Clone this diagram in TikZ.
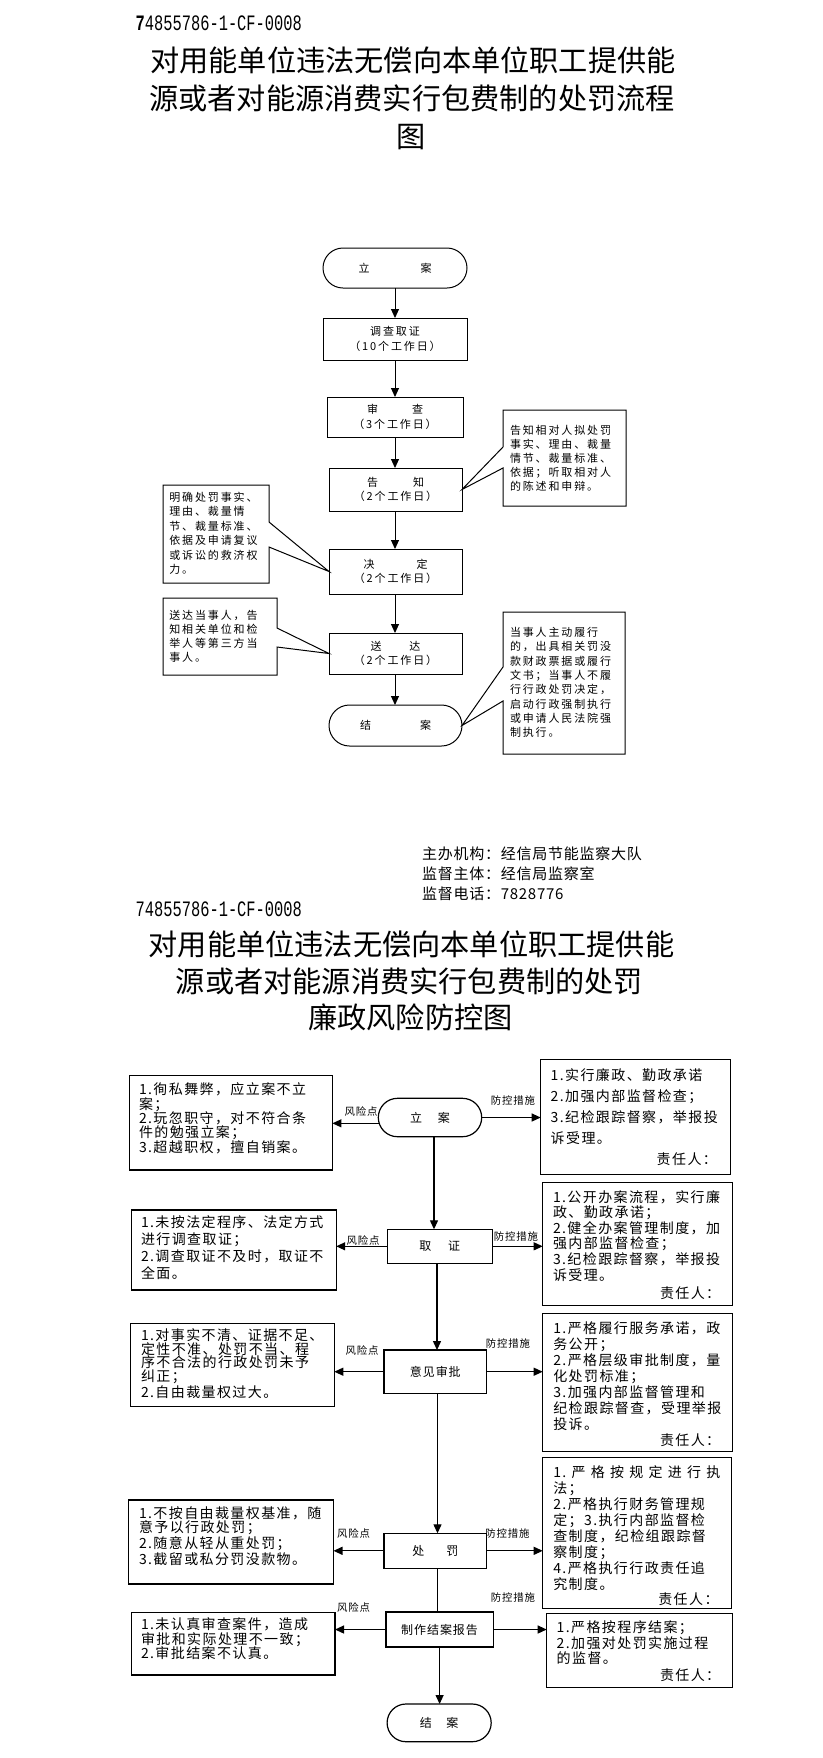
\documentclass[tikz,border=0pt]{standalone}
\usepackage{fontspec}
\usepackage{graphicx}
\usetikzlibrary{arrows.meta,shapes.misc}
\newfontfamily\cjk{Noto Sans CJK SC}
\newfontfamily\cjkA[LetterSpace=17]{Noto Sans CJK SC}
\newfontfamily\cjkB[LetterSpace=10]{Noto Sans CJK SC}
\newfontfamily\cjkC[LetterSpace=8]{Noto Sans CJK SC}
\newfontfamily\cjkD[LetterSpace=5]{Noto Sans CJK SC}
\newfontfamily\idf{Liberation Mono}
\begin{document}
\lineskiplimit=-20pt
\lineskip=0pt
\begin{tikzpicture}[x=0.5pt,y=-0.5pt]
\tikzset{
  every node/.style={inner sep=0pt, outer sep=0pt},
  fbox/.style={draw, line width=0.5pt, rectangle, align=center, font={\cjkA\fontsize{5.5pt}{7.25pt}\selectfont}},
  fstad/.style={fbox, rounded rectangle},
  ntxt/.style={anchor=base west, text width=90pt, align=left, font={\cjkA\fontsize{5.5pt}{#1}\selectfont}},
  cbox/.style={draw, line width=0.6pt, rectangle, align=center, font={\cjkC\fontsize{6pt}{7.5pt}\selectfont}},
  cstad/.style={cbox, rounded rectangle},
  sbox/.style={draw, line width=0.6pt, rectangle, anchor=north west},
  ltxt/.style={anchor=base west, text width=120pt, align=left, font={\cjkB\fontsize{7pt}{#1}\selectfont}},
  resp/.style={anchor=base west, font={\cjkB\fontsize{7pt}{8pt}\selectfont}},
  lbl/.style={font={\cjkC\fontsize{5.2pt}{6pt}\selectfont}},
  arr/.style={-{Triangle[length=4.5pt,width=4pt]}, line width=0.5pt},
  arrL/.style={-{Triangle[length=4.5pt,width=4pt]}, line width=0.6pt},
  plain/.style={line width=0.6pt},
  ttl/.style={font={\cjk\fontsize{14.6pt}{18pt}\selectfont}},
  idt/.style={anchor=base west, font={\idf\fontsize{11pt}{13pt}\selectfont}},
  callout/.style={line width=0.5pt}
}
\fill[white] (0,0) rectangle (823,1758);
\useasboundingbox (0,0) rectangle (823,1758);

% ---------- part 1 ----------
\node[idt] (id1) at (135.6,30) {\scalebox{0.7}[1]{\textbf{7}4855786-1-CF-0008}};
\node[ttl] (t1a) at (413,60) {对用能单位违法无偿向本单位职工提供能};
\node[ttl] (t1b) at (412,98.3) {源或者对能源消费实行包费制的处罚流程};
\node[ttl] (t1c) at (411.5,137.5) {图};

\node[fstad, minimum width=72pt, minimum height=20pt] (tla) at (395,268) {立\hspace{25.5pt}案};
\node[fbox, minimum width=72pt, minimum height=21pt] (tdc) at (395,339) {调查取证\\（10个工作日）};
\node[fbox, minimum width=68pt, minimum height=20pt] (tsc) at (395,417) {审\hspace{17pt}查\\（3个工作日）};
\node[fbox, minimum width=66.5pt, minimum height=21.5pt] (tgz) at (395.5,489.5) {告\hspace{17.5pt}知\\（2个工作日）};
\node[fbox, minimum width=66.5pt, minimum height=22.5pt] (tjd) at (395.5,571.5) {决\hspace{21pt}定\\（2个工作日）};
\node[fbox, minimum width=66.5pt, minimum height=20.5pt] (tsd) at (395.5,653.5) {送\hspace{14pt}达\\（2个工作日）};
\node[fstad, minimum width=66.5pt, minimum height=20.5pt] (tja) at (395.5,725.5) {结\hspace{24.5pt}案};

\draw[arr] (tla.south) -- (tla.south |- tdc.north);
\draw[arr] (tdc.south) -- (tdc.south |- tsc.north);
\draw[arr] (tsc.south) -- (tsc.south |- tgz.north);
\draw[arr] (tsc.south |- tgz.south) -- (tsc.south |- tjd.north);
\draw[arr] (tsc.south |- tjd.south) -- (tsc.south |- tsd.north);
\draw[arr] (tsc.south |- tsd.south) -- (tsc.south |- tja.north);

\draw[callout] (503,447) -- (503,410) -- (626,410) -- (626,506) -- (503,506) -- (503,468) -- (tgz.east) -- cycle;
\draw[callout] (269,522) -- (269,485) -- (163,485) -- (163,583) -- (269,583) -- (269,547) -- (tjd.west) -- cycle;
\draw[callout] (277,628) -- (277,598) -- (163,598) -- (163,675) -- (277,675) -- (277,647) -- (tsd.west) -- cycle;
\draw[callout] (503,667) -- (503,612) -- (625,612) -- (625,754) -- (503,754) -- (503,701) -- (tja.east) -- cycle;

\node[ntxt=7pt] (rn1) at (510,434.2) {告知相对人拟处罚\\事实、理由、裁量\\情节、裁量标准、\\依据；听取相对人\\的陈述和申辩。};
\node[ntxt=7.2pt] (ln1) at (169.3,501.5) {明确处罚事实、\\理由、裁量情\\节、裁量标准、\\依据及申请复议\\或诉讼的救济权\\力。};
\node[ntxt=7pt] (ln2) at (169.3,619.2) {送达当事人，告\\知相关单位和检\\举人等第三方当\\事人。};
\node[ntxt=7.15pt] (rn2) at (510,636.5) {当事人主动履行\\的，出具相关罚没\\款财政票据或履行\\文书；当事人不履\\行行政处罚决定，\\启动行政强制执行\\或申请人民法院强\\制执行。};

\node[anchor=base west, text width=200pt, align=left, font={\cjkD\fontsize{7.5pt}{10.2pt}\selectfont}] (ft) at (422,859) {主办机构：经信局节能监察大队\\监督主体：经信局监察室\\监督电话：7828776};

% ---------- part 2 ----------
\node[idt] (id2) at (135.6,916) {\scalebox{0.7}[1]{74855786-1-CF-0008}};
\node[ttl] (t2a) at (411.5,944) {对用能单位违法无偿向本单位职工提供能};
\node[ttl] (t2b) at (409.5,981.7) {源或者对能源消费实行包费制的处罚};
\node[ttl] (t2c) at (410.5,1017.5) {廉政风险防控图};

% centre column
\node[cstad, minimum width=51.7pt, minimum height=19.2pt] (lla) at (430,1117.5) {立\hspace{8pt}案};
\node[cbox, minimum width=52.65pt, minimum height=17pt] (lqz) at (439.75,1246.3) {取\hspace{8.3pt}证};
\node[cbox, minimum width=51.3pt, minimum height=21.65pt] (lyj) at (435.3,1371.7) {意见审批};
\node[cbox, minimum width=51.3pt, minimum height=17.5pt] (lcf) at (435.3,1550.8) {处\hspace{11pt}罚};
\node[cbox, minimum width=53.55pt, minimum height=17.5pt] (lzz) at (439.55,1629.5) {制作结案报告};
\node[cstad, minimum width=52.05pt, minimum height=18.85pt] (lja) at (439.15,1722.85) {结\hspace{7.3pt}案};

\coordinate (ax1) at (434,0);
\coordinate (ax2) at (437,0);
\coordinate (ax3) at (437.5,0);
\coordinate (ax5) at (439.6,0);
\draw[arrL] (lla.south -| ax1) -- (lqz.north -| ax1);
\draw[arrL] (lqz.south -| ax2) -- (lyj.north -| ax2);
\draw[arrL] (lyj.south -| ax3) -- (lcf.north -| ax3);
\draw[plain] (lcf.south -| ax3) -- (lzz.north -| ax3);
\draw[arrL] (lzz.south -| ax5) -- (lja.north -| ax5);

% side boxes
\node[sbox, minimum width=101.4pt, minimum height=47.15pt] (L1) at (129.6,1075.7) {};
\node[sbox, minimum width=102.35pt, minimum height=40pt] (L2) at (131.5,1210) {};
\node[sbox, minimum width=101.8pt, minimum height=41.7pt] (L3) at (130.7,1323.3) {};
\node[sbox, minimum width=102.55pt, minimum height=42pt] (L4) at (128.4,1500) {};
\node[sbox, minimum width=101.75pt, minimum height=31.15pt] (L5) at (131.5,1612.7) {};
\node[sbox, minimum width=95pt, minimum height=57.5pt] (R1) at (540.7,1059.3) {};
\node[sbox, minimum width=94.8pt, minimum height=61.3pt] (R2) at (542.7,1182.7) {};
\node[sbox, minimum width=94.8pt, minimum height=69.2pt] (R3) at (542.7,1313.3) {};
\node[sbox, minimum width=94.5pt, minimum height=75.5pt] (R4) at (542.7,1457.3) {};
\node[sbox, minimum width=92.8pt, minimum height=37pt] (R5) at (546.7,1613.3) {};

\node[ltxt=7.2pt] (L1t) at (139,1094.6) {1.徇私舞弊，应立案不立\\案；\\2.玩忽职守，对不符合条\\件的勉强立案；\\3.超越职权，擅自销案。};
\node[ltxt=8.5pt] (L2t) at (141,1227.3) {1.未按法定程序、法定方式\\进行调查取证；\\2.调查取证不及时，取证不\\全面。};
\node[ltxt=6.9pt] (L3t) at (141,1340.3) {1.对事实不清、证据不足、\\定性不准、处罚不当、程\\序不合法的行政处罚未予\\纠正；\\2.自由裁量权过大。};
\node[ltxt=7pt] (L4t) at (139,1518.6) {1.不按自由裁量权基准，随\\意予以行政处罚；\\2.随意从轻从重处罚；\\3.截留或私分罚没款物。};
\node[ltxt=7.35pt] (L5t) at (141,1629.3) {1.未认真审查案件，造成\\审批和实际处理不一致；\\2.审批结案不认真。};

\node[ltxt=10.5pt] (R1t) at (550.7,1080.3) {1.实行廉政、勤政承诺\\2.加强内部监督检查；\\3.纪检跟踪督察，举报投\\诉受理。};
\node[ltxt=7.8pt] (R2t) at (553,1202) {1.公开办案流程，实行廉\\政、勤政承诺；\\2.健全办案管理制度，加\\强内部监督检查；\\3.纪检跟踪督察，举报投\\诉受理。};
\node[ltxt=8pt] (R3t) at (553.3,1333.6) {1.严格履行服务承诺，政\\务公开；\\2.严格层级审批制度，量\\化处罚标准；\\3.加强内部监督管理和\\纪检跟踪督查，受理举报\\投诉。};
\node[ltxt=8pt] (R4t) at (553.3,1477) {\makebox[83.5pt][s]{1.\hfil 严\hfil 格\hfil 按\hfil 规\hfil 定\hfil 进\hfil 行\hfil 执}\\法；\\2.严格执行财务管理规\\定；3.执行内部监督检\\查制度，纪检组跟踪督\\察制度；\\4.严格执行行政责任追\\究制度。};
\node[ltxt=7.75pt] (R5t) at (556.7,1632.6) {1.严格按程序结案；\\2.加强对处罚实施过程\\的监督。};

\node[resp] (R1r) at (656.7,1164.6) {责任人：};
\node[resp] (R2r) at (660,1298) {责任人：};
\node[resp] (R3r) at (660,1445.3) {责任人：};
\node[resp] (R4r) at (658.3,1604.6) {责任人：};
\node[resp] (R5r) at (660,1680.3) {责任人：};

% horizontal arrows
\coordinate (pl1) at (379.2,1123.3);
\draw[arrL] (pl1) -- (pl1 -| L1.east);
\draw[arrL] (lla.east) -- (lla.east -| R1.west);
\draw[arrL] (lqz.west) -- (lqz.west -| L2.east);
\draw[arrL] (lqz.east) -- (lqz.east -| R2.west);
\draw[arrL] (lyj.west) -- (lyj.west -| L3.east);
\draw[arrL] (lyj.east) -- (lyj.east -| R3.west);
\draw[arrL] (lcf.west) -- (lcf.west -| L4.east);
\draw[arrL] (lcf.east) -- (lcf.east -| R4.west);
\draw[arrL] (lzz.west) -- (lzz.west -| L5.east);
\draw[arrL] (lzz.east) -- (lzz.east -| R5.west);

% labels
\node[lbl] (f1) at (361,1111.7) {风险点};
\node[lbl] (k1) at (513,1101) {防控措施};
\node[lbl] (f2) at (363,1240.5) {风险点};
\node[lbl] (k2) at (516,1236.7) {防控措施};
\node[lbl] (f3) at (362,1350) {风险点};
\node[lbl] (k3) at (508,1343.7) {防控措施};
\node[lbl] (f4) at (353.5,1533) {风险点};
\node[lbl] (k4) at (507.5,1533.3) {防控措施};
\node[lbl] (k5) at (513,1597.5) {防控措施};
\node[lbl] (f5) at (353.5,1607.5) {风险点};
\end{tikzpicture}
\end{document}
